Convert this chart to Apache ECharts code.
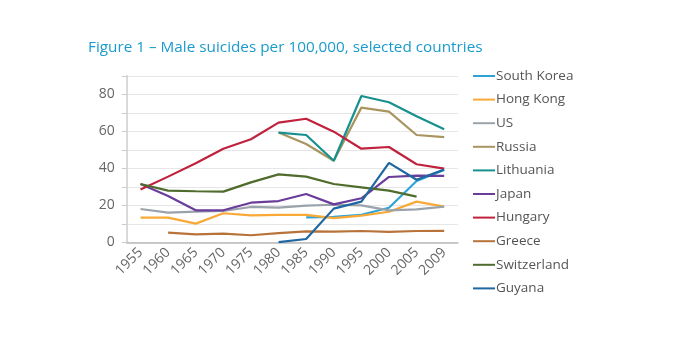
<!DOCTYPE html>
<html><head><meta charset="utf-8">
<script src="https://cdn.jsdelivr.net/npm/echarts@6/dist/echarts.min.js"></script>
<style>html,body{margin:0;padding:0;background:#fff}#c{width:674px;height:350px}</style>
</head><body><div id="c"></div>
<script>
const years = ['1955','1960','1965','1970','1975','1980','1985','1990','1995','2000','2005','2009'];
const southKorea  = [null,null,null,null,null,null,13.5,13.7,14.9,18.7,33.1,39.1];
const hongKong    = [13.3,13.3,10.1,15.7,14.6,14.8,14.8,13.1,14.4,16.5,22.0,19.3];
const us          = [18.0,16.0,16.6,17.0,19.1,18.7,19.8,20.3,20.0,17.3,17.8,19.3];
const russia      = [null,null,null,null,null,59.3,53.1,44.1,72.8,70.6,58.0,56.9];
const lithuania   = [null,null,null,null,null,59.3,58.0,44.1,79.1,75.7,68.1,61.1];
const japan       = [31.5,25.0,17.3,17.3,21.4,22.3,26.1,20.5,23.8,35.3,36.0,35.9];
const hungary     = [28.6,35.5,42.7,50.6,55.7,64.7,66.8,59.8,50.6,51.5,42.2,39.8];
const greece      = [null,5.2,4.3,4.7,3.8,5.0,5.9,5.8,6.1,5.6,6.1,6.2];
const switzerland = [31.5,27.9,27.6,27.4,32.4,36.7,35.5,31.5,29.7,27.9,24.7,null];
const guyana      = [null,null,null,null,null,0.1,1.8,18.2,22.0,42.9,33.8,39.4];

const names  = ['South Korea','Hong Kong','US','Russia','Lithuania','Japan','Hungary','Greece','Switzerland','Guyana'];
const values = [southKorea,hongKong,us,russia,lithuania,japan,hungary,greece,switzerland,guyana];
const colors = ['#2ea3d6','#f9a936','#9aa3ab','#a8955f','#17908e','#6a3d9b','#c0213c','#b8733a','#4f6c2c','#1e67a1'];

const chart = echarts.init(document.getElementById('c'));
chart.setOption({
  animation:false,
  title:{text:'Figure 1 – Male suicides per 100,000, selected countries',left:83,top:35,
    textStyle:{color:'#1a9bcb',fontSize:15.3,fontWeight:'normal',fontFamily:'Open Sans'}},
  legend:{orient:'vertical',left:468,top:64,itemGap:9.6,itemWidth:22,itemHeight:2,
    icon:'rect',textStyle:{color:'#555',fontSize:13.5,fontFamily:'Open Sans',padding:[0,0,0,-4]},
    data:names},
  grid:{left:126.7,right:216,top:75.8,bottom:107.7},
  xAxis:{type:'category',data:years,boundaryGap:true,
    axisLine:{lineStyle:{color:'#bbb',width:1.5}},
    axisTick:{lineStyle:{color:'#bbb'},length:5},
    axisLabel:{rotate:45,color:'#666',fontSize:14,fontFamily:'Open Sans',margin:8}},
  yAxis:{type:'value',min:0,max:90,interval:10,
    axisLine:{show:true,lineStyle:{color:'#ccc',width:1.5}},
    axisTick:{show:true,lineStyle:{color:'#ccc'},length:5},
    splitLine:{lineStyle:{color:'#e6e6e6'}},
    axisLabel:{color:'#666',fontSize:14,fontFamily:'Open Sans',margin:12,
      formatter:v=> v%20===0 && v<=80 ? String(v) : ''}},
  series: names.map((n,i)=>({name:n,type:'line',data:values[i],symbol:'none',
    color:colors[i],lineStyle:{width:2.2,color:colors[i]},connectNulls:false}))
});
</script></body></html>
